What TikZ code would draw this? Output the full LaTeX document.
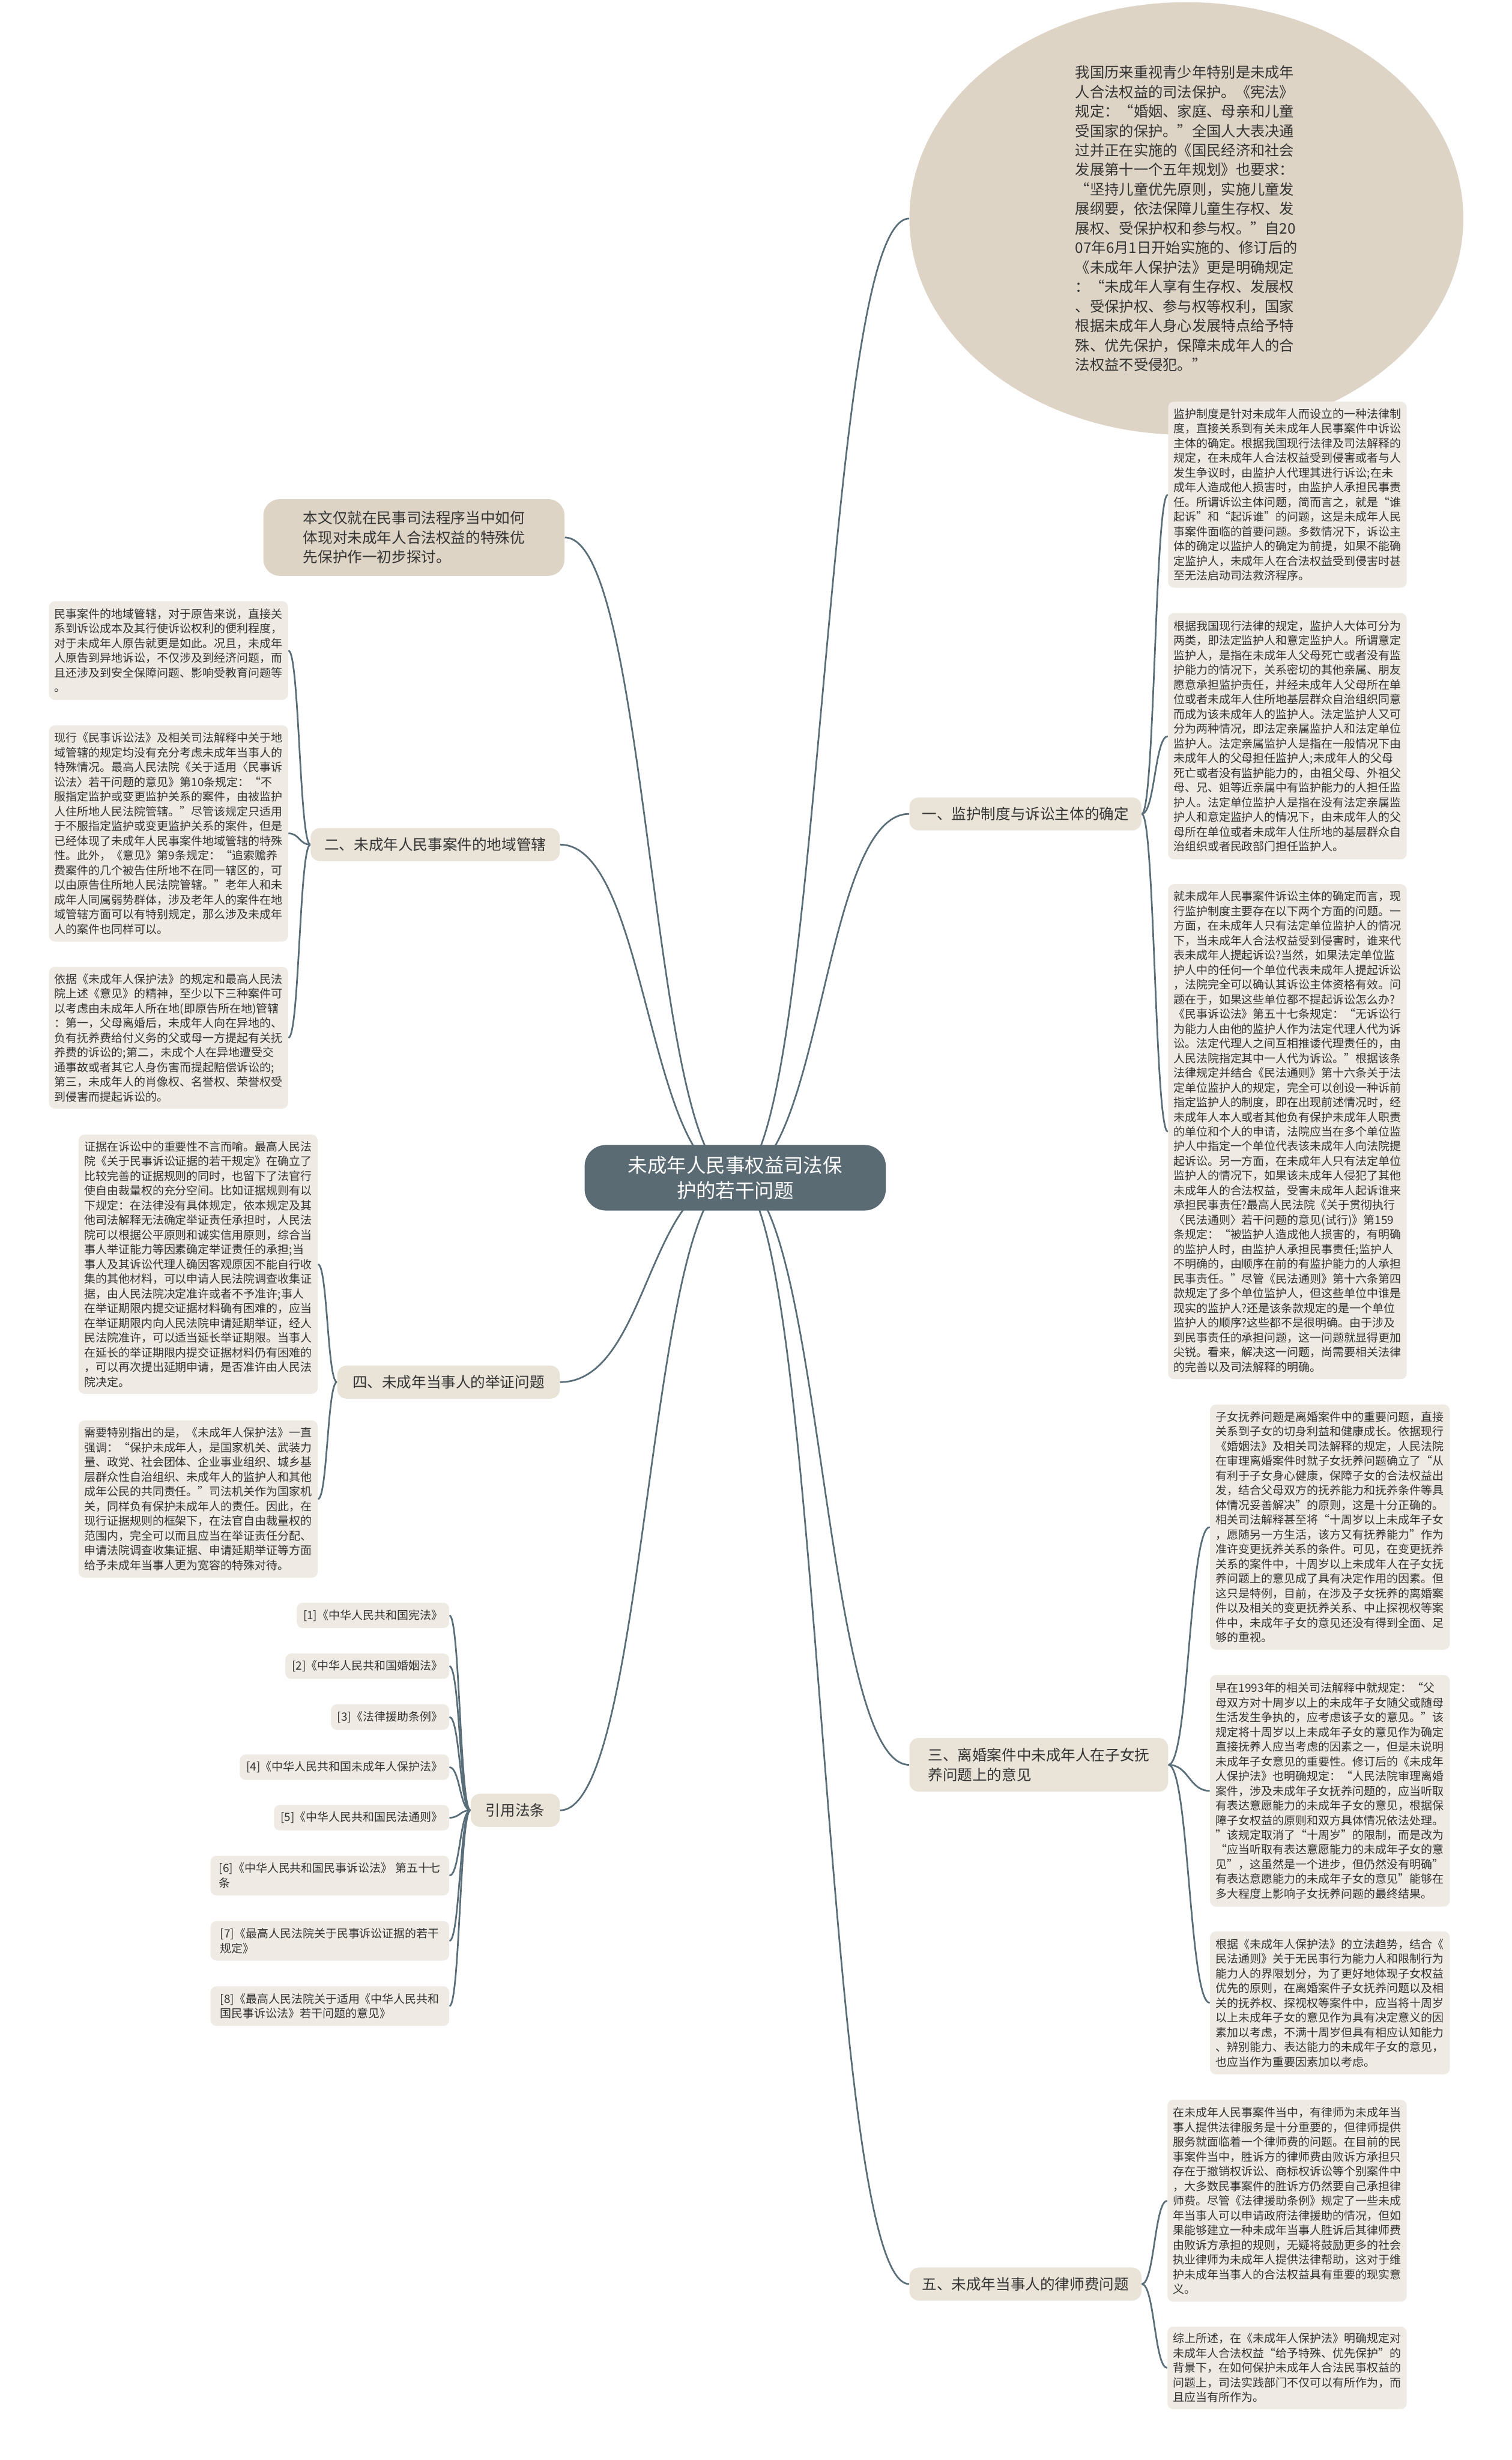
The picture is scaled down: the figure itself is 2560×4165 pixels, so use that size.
\documentclass[tikz,border=0pt]{standalone}
\usepackage{fontspec}
\setmainfont{Noto Sans CJK SC}
\usetikzlibrary{shapes.geometric,calc}
\pgfdeclarelayer{bg}
\pgfsetlayers{bg,main}
\definecolor{leafc}{HTML}{EFEBE4}
\definecolor{tanc}{HTML}{DDD4C5}
\definecolor{pillc}{HTML}{E9E3D8}
\definecolor{centc}{HTML}{5B6B74}
\definecolor{linec}{HTML}{5A6E79}
\definecolor{txtc}{HTML}{333333}
\newcommand\mmlink[2]{\draw[conn] (#1) .. controls ($(#1)!0.5!(#1 -| #2)$) and ($(#2)!0.5!(#2 -| #1)$) .. (#2);}
\begin{document}
\begin{tikzpicture}[x=0.5pt,y=-0.5pt,
  sz/.style 2 args={minimum width=#1*0.5pt,minimum height=#2*0.5pt},
  leaf/.style={fill=leafc,rounded corners=5pt,inner sep=0pt,align=left,text=txtc,font=\fontsize{9.65pt}{12.45pt}\selectfont},
  refbox/.style={fill=leafc,rounded corners=5pt,inner xsep=5.5pt,inner ysep=0pt,align=left,text=txtc,font=\fontsize{9.65pt}{12.45pt}\selectfont,anchor=east,minimum height=21.5pt},
  branch/.style={fill=pillc,rounded corners=8pt,inner sep=0pt,align=left,text=txtc,font=\fontsize{12.5pt}{16.5pt}\selectfont},
  conn/.style={draw=linec,line width=1.4pt}]
\begin{pgfonlayer}{bg}
\fill[white] (0,0) rectangle (2560,4165);
\end{pgfonlayer}
\useasboundingbox (0,0) rectangle (2560,4165);

% center
\node[fill=centc,rounded corners=18pt,inner sep=0pt,sz={510}{111},text=white,align=center,font=\fontsize{16.5pt}{21pt}\selectfont] (cen) at (1245,1994) {未成年人民事权益司法保\\护的若干问题};

% ellipse
\node[ellipse,fill=tanc,inner sep=0pt,sz={938}{580},align=left,text=txtc,font=\fontsize{12.35pt}{16.5pt}\selectfont] (ell) at (2009,370) {我国历来重视青少年特别是未成年\\
人合法权益的司法保护。《宪法》\\
规定：“婚姻、家庭、母亲和儿童\\
受国家的保护。”全国人大表决通\\
过并正在实施的《国民经济和社会\\
发展第十一个五年规划》也要求：\\
“坚持儿童优先原则，实施儿童发\\
展纲要，依法保障儿童生存权、发\\
展权、受保护权和参与权。”自20\\
07年6月1日开始实施的、修订后的\\
《未成年人保护法》更是明确规定\\
：“未成年人享有生存权、发展权\\
、受保护权、参与权等权利，国家\\
根据未成年人身心发展特点给予特\\
殊、优先保护，保障未成年人的合\\
法权益不受侵犯。”};

% branches
\node[branch,fill=tanc,rounded corners=14pt,sz={510}{130}] (b0) at (701,910) {本文仅就在民事司法程序当中如何\\体现对未成年人合法权益的特殊优\\先保护作一初步探讨。};
\node[branch,sz={422}{56}] (b2) at (737,1430) {二、未成年人民事案件的地域管辖};
\node[branch,sz={377}{56}] (b4) at (759.5,2340) {四、未成年当事人的举证问题};
\node[branch,sz={151}{56}] (bref) at (872.5,3065) {引用法条};
\node[branch,sz={393}{56}] (b1) at (1736.5,1378) {一、监护制度与诉讼主体的确定};
\node[branch,sz={438}{91}] (b3) at (1759,2988) {三、离婚案件中未成年人在子女抚\\养问题上的意见};
\node[branch,sz={393}{56}] (b5) at (1736.5,3867) {五、未成年当事人的律师费问题};

% right leaves
\node[leaf,sz={404}{315}] (r1) at (2180,837.5) {监护制度是针对未成年人而设立的一种法律制\\
度，直接关系到有关未成年人民事案件中诉讼\\
主体的确定。根据我国现行法律及司法解释的\\
规定，在未成年人合法权益受到侵害或者与人\\
发生争议时，由监护人代理其进行诉讼;在未\\
成年人造成他人损害时，由监护人承担民事责\\
任。所谓诉讼主体问题，简而言之，就是“谁\\
起诉”和“起诉谁”的问题，这是未成年人民\\
事案件面临的首要问题。多数情况下，诉讼主\\
体的确定以监护人的确定为前提，如果不能确\\
定监护人，未成年人在合法权益受到侵害时甚\\
至无法启动司法救济程序。};

\node[leaf,sz={404}{417}] (r2) at (2180,1246.5) {根据我国现行法律的规定，监护人大体可分为\\
两类，即法定监护人和意定监护人。所谓意定\\
监护人，是指在未成年人父母死亡或者没有监\\
护能力的情况下，关系密切的其他亲属、朋友\\
愿意承担监护责任，并经未成年人父母所在单\\
位或者未成年人住所地基层群众自治组织同意\\
而成为该未成年人的监护人。法定监护人又可\\
分为两种情况，即法定亲属监护人和法定单位\\
监护人。法定亲属监护人是指在一般情况下由\\
未成年人的父母担任监护人;未成年人的父母\\
死亡或者没有监护能力的，由祖父母、外祖父\\
母、兄、姐等近亲属中有监护能力的人担任监\\
护人。法定单位监护人是指在没有法定亲属监\\
护人和意定监护人的情况下，由未成年人的父\\
母所在单位或者未成年人住所地的基层群众自\\
治组织或者民政部门担任监护人。};

\node[leaf,sz={404}{838}] (r3) at (2180,1916) {就未成年人民事案件诉讼主体的确定而言，现\\
行监护制度主要存在以下两个方面的问题。一\\
方面，在未成年人只有法定单位监护人的情况\\
下，当未成年人合法权益受到侵害时，谁来代\\
表未成年人提起诉讼?当然，如果法定单位监\\
护人中的任何一个单位代表未成年人提起诉讼\\
，法院完全可以确认其诉讼主体资格有效。问\\
题在于，如果这些单位都不提起诉讼怎么办?\\
《民事诉讼法》第五十七条规定：“无诉讼行\\
为能力人由他的监护人作为法定代理人代为诉\\
讼。法定代理人之间互相推诿代理责任的，由\\
人民法院指定其中一人代为诉讼。”根据该条\\
法律规定并结合《民法通则》第十六条关于法\\
定单位监护人的规定，完全可以创设一种诉前\\
指定监护人的制度，即在出现前述情况时，经\\
未成年人本人或者其他负有保护未成年人职责\\
的单位和个人的申请，法院应当在多个单位监\\
护人中指定一个单位代表该未成年人向法院提\\
起诉讼。另一方面，在未成年人只有法定单位\\
监护人的情况下，如果该未成年人侵犯了其他\\
未成年人的合法权益，受害未成年人起诉谁来\\
承担民事责任?最高人民法院《关于贯彻执行\\
〈民法通则〉若干问题的意见(试行)》第159\\
条规定：“被监护人造成他人损害的，有明确\\
的监护人时，由监护人承担民事责任;监护人\\
不明确的，由顺序在前的有监护能力的人承担\\
民事责任。”尽管《民法通则》第十六条第四\\
款规定了多个单位监护人，但这些单位中谁是\\
现实的监护人?还是该条款规定的是一个单位\\
监护人的顺序?这些都不是很明确。由于涉及\\
到民事责任的承担问题，这一问题就显得更加\\
尖锐。看来，解决这一问题，尚需要相关法律\\
的完善以及司法解释的明确。};

\node[leaf,sz={406}{415}] (r4) at (2252,2585.5) {子女抚养问题是离婚案件中的重要问题，直接\\
关系到子女的切身利益和健康成长。依据现行\\
《婚姻法》及相关司法解释的规定，人民法院\\
在审理离婚案件时就子女抚养问题确立了“从\\
有利于子女身心健康，保障子女的合法权益出\\
发，结合父母双方的抚养能力和抚养条件等具\\
体情况妥善解决”的原则，这是十分正确的。\\
相关司法解释甚至将“十周岁以上未成年子女\\
，愿随另一方生活，该方又有抚养能力”作为\\
准许变更抚养关系的条件。可见，在变更抚养\\
关系的案件中，十周岁以上未成年人在子女抚\\
养问题上的意见成了具有决定作用的因素。但\\
这只是特例，目前，在涉及子女抚养的离婚案\\
件以及相关的变更抚养关系、中止探视权等案\\
件中，未成年子女的意见还没有得到全面、足\\
够的重视。};

\node[leaf,sz={406}{392}] (r5) at (2252,3032) {早在1993年的相关司法解释中就规定：“父\\
母双方对十周岁以上的未成年子女随父或随母\\
生活发生争执的，应考虑该子女的意见。”该\\
规定将十周岁以上未成年子女的意见作为确定\\
直接抚养人应当考虑的因素之一，但是未说明\\
未成年子女意见的重要性。修订后的《未成年\\
人保护法》也明确规定：“人民法院审理离婚\\
案件，涉及未成年子女抚养问题的，应当听取\\
有表达意愿能力的未成年子女的意见，根据保\\
障子女权益的原则和双方具体情况依法处理。\\
”该规定取消了“十周岁”的限制，而是改为\\
“应当听取有表达意愿能力的未成年子女的意\\
见”，这虽然是一个进步，但仍然没有明确”\\
有表达意愿能力的未成年子女的意见”能够在\\
多大程度上影响子女抚养问题的最终结果。};

\node[leaf,sz={406}{242}] (r6) at (2252,3391) {根据《未成年人保护法》的立法趋势，结合《\\
民法通则》关于无民事行为能力人和限制行为\\
能力人的界限划分，为了更好地体现子女权益\\
优先的原则，在离婚案件子女抚养问题以及相\\
关的抚养权、探视权等案件中，应当将十周岁\\
以上未成年子女的意见作为具有决定意义的因\\
素加以考虑，不满十周岁但具有相应认知能力\\
、辨别能力、表达能力的未成年子女的意见，\\
也应当作为重要因素加以考虑。};

\node[leaf,sz={405}{342}] (r7) at (2179.5,3726) {在未成年人民事案件当中，有律师为未成年当\\
事人提供法律服务是十分重要的，但律师提供\\
服务就面临着一个律师费的问题。在目前的民\\
事案件当中，胜诉方的律师费由败诉方承担只\\
存在于撤销权诉讼、商标权诉讼等个别案件中\\
，大多数民事案件的胜诉方仍然要自己承担律\\
师费。尽管《法律援助条例》规定了一些未成\\
年当事人可以申请政府法律援助的情况，但如\\
果能够建立一种未成年当事人胜诉后其律师费\\
由败诉方承担的规则，无疑将鼓励更多的社会\\
执业律师为未成年人提供法律帮助，这对于维\\
护未成年当事人的合法权益具有重要的现实意\\
义。};

\node[leaf,sz={405}{140}] (r8) at (2179.5,4009) {综上所述，在《未成年人保护法》明确规定对\\
未成年人合法权益“给予特殊、优先保护”的\\
背景下，在如何保护未成年人合法民事权益的\\
问题上，司法实践部门不仅可以有所作为，而\\
且应当有所作为。};

% left leaves
\node[leaf,sz={405}{167}] (l1) at (285.5,1101.5) {民事案件的地域管辖，对于原告来说，直接关\\
系到诉讼成本及其行使诉讼权利的便利程度，\\
对于未成年人原告就更是如此。况且，未成年\\
人原告到异地诉讼，不仅涉及到经济问题，而\\
且还涉及到安全保障问题、影响受教育问题等\\
。};

\node[leaf,sz={405}{366}] (l2) at (285.5,1411) {现行《民事诉讼法》及相关司法解释中关于地\\
域管辖的规定均没有充分考虑未成年当事人的\\
特殊情况。最高人民法院《关于适用〈民事诉\\
讼法〉若干问题的意见》第10条规定：“不\\
服指定监护或变更监护关系的案件，由被监护\\
人住所地人民法院管辖。”尽管该规定只适用\\
于不服指定监护或变更监护关系的案件，但是\\
已经体现了未成年人民事案件地域管辖的特殊\\
性。此外，《意见》第9条规定：“追索赡养\\
费案件的几个被告住所地不在同一辖区的，可\\
以由原告住所地人民法院管辖。”老年人和未\\
成年人同属弱势群体，涉及老年人的案件在地\\
域管辖方面可以有特别规定，那么涉及未成年\\
人的案件也同样可以。};

\node[leaf,sz={405}{240}] (l3) at (285.5,1757) {依据《未成年人保护法》的规定和最高人民法\\
院上述《意见》的精神，至少以下三种案件可\\
以考虑由未成年人所在地(即原告所在地)管辖\\
：第一，父母离婚后，未成年人向在异地的、\\
负有抚养费给付义务的父或母一方提起有关抚\\
养费的诉讼的;第二，未成个人在异地遭受交\\
通事故或者其它人身伤害而提起赔偿诉讼的;\\
第三，未成年人的肖像权、名誉权、荣誉权受\\
到侵害而提起诉讼的。};

\node[leaf,sz={405}{439}] (l4) at (335.5,2140.5) {证据在诉讼中的重要性不言而喻。最高人民法\\
院《关于民事诉讼证据的若干规定》在确立了\\
比较完善的证据规则的同时，也留下了法官行\\
使自由裁量权的充分空间。比如证据规则有以\\
下规定：在法律没有具体规定，依本规定及其\\
他司法解释无法确定举证责任承担时，人民法\\
院可以根据公平原则和诚实信用原则，综合当\\
事人举证能力等因素确定举证责任的承担;当\\
事人及其诉讼代理人确因客观原因不能自行收\\
集的其他材料，可以申请人民法院调查收集证\\
据，由人民法院决定准许或者不予准许;事人\\
在举证期限内提交证据材料确有困难的，应当\\
在举证期限内向人民法院申请延期举证，经人\\
民法院准许，可以适当延长举证期限。当事人\\
在延长的举证期限内提交证据材料仍有困难的\\
，可以再次提出延期申请，是否准许由人民法\\
院决定。};

\node[leaf,sz={405}{266}] (l5) at (335.5,2538) {需要特别指出的是，《未成年人保护法》一直\\
强调：“保护未成年人，是国家机关、武装力\\
量、政党、社会团体、企业事业组织、城乡基\\
层群众性自治组织、未成年人的监护人和其他\\
成年公民的共同责任。”司法机关作为国家机\\
关，同样负有保护未成年人的责任。因此，在\\
现行证据规则的框架下，在法官自由裁量权的\\
范围内，完全可以而且应当在举证责任分配、\\
申请法院调查收集证据、申请延期举证等方面\\
给予未成年当事人更为宽容的特殊对待。};

% references
\node[refbox] (f1) at (761,2735) {[1]《中华人民共和国宪法》};
\node[refbox] (f2) at (761,2821) {[2]《中华人民共和国婚姻法》};
\node[refbox] (f3) at (761,2907) {[3]《法律援助条例》};
\node[refbox] (f4) at (761,2992) {[4]《中华人民共和国未成年人保护法》};
\node[refbox] (f5) at (761,3077.5) {[5]《中华人民共和国民法通则》};
\node[refbox,sz={404}{67}] (f6) at (761,3175.5) {[6]《中华人民共和国民事诉讼法》 第五十七\\条};
\node[refbox,sz={404}{67}] (f7) at (761,3286) {[7]《最高人民法院关于民事诉讼证据的若干\\规定》};
\node[refbox,sz={404}{67}] (f8) at (761,3396.5) {[8]《最高人民法院关于适用《中华人民共和\\国民事诉讼法》若干问题的意见》};

% connectors
\begin{pgfonlayer}{bg}
\mmlink{cen.center}{ell.west}
\mmlink{cen.center}{b1.west}
\mmlink{cen.center}{b3.west}
\mmlink{cen.center}{b5.west}
\mmlink{cen.center}{b0.east}
\mmlink{cen.center}{b2.east}
\mmlink{cen.center}{b4.east}
\mmlink{cen.center}{bref.east}
\mmlink{b1.east}{r1.west}
\mmlink{b1.east}{r2.west}
\mmlink{b1.east}{r3.west}
\mmlink{b3.east}{r4.west}
\mmlink{b3.east}{r5.west}
\mmlink{b3.east}{r6.west}
\mmlink{b5.east}{r7.west}
\mmlink{b5.east}{r8.west}
\mmlink{b2.west}{l1.east}
\mmlink{b2.west}{l2.east}
\mmlink{b2.west}{l3.east}
\mmlink{b4.west}{l4.east}
\mmlink{b4.west}{l5.east}
\mmlink{bref.west}{f1.east}
\mmlink{bref.west}{f2.east}
\mmlink{bref.west}{f3.east}
\mmlink{bref.west}{f4.east}
\mmlink{bref.west}{f5.east}
\mmlink{bref.west}{f6.east}
\mmlink{bref.west}{f7.east}
\mmlink{bref.west}{f8.east}
\end{pgfonlayer}
\end{tikzpicture}
\end{document}
